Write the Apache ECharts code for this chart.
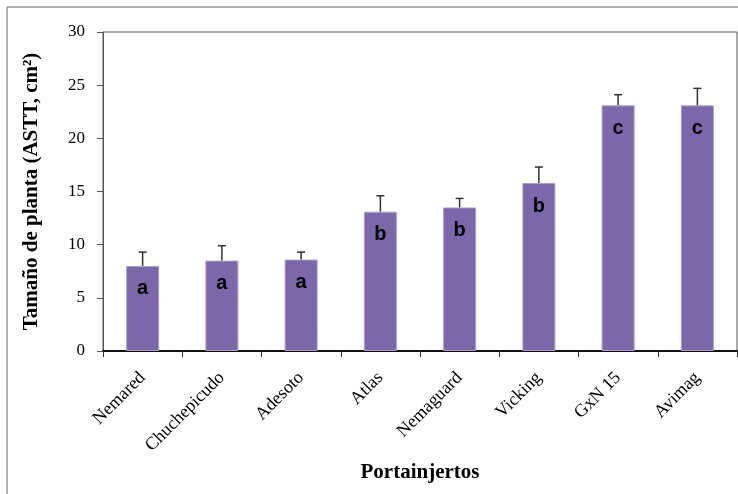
<!DOCTYPE html>
<html>
<head>
<meta charset="utf-8">
<script src="https://cdn.jsdelivr.net/npm/echarts@6/dist/echarts.min.js"></script>
<style>
  html, body { margin: 0; padding: 0; background: #fff; }
  #chart { width: 738px; height: 494px; }
</style>
</head>
<body>
<div id="chart"></div>
<script>
const categories = ["Nemared", "Chuchepicudo", "Adesoto", "Atlas", "Nemaguard", "Vicking", "GxN 15", "Avimag"];
const means = [8.0, 8.5, 8.6, 13.1, 13.5, 15.8, 23.1, 23.1];
const errorTops = [9.3, 9.9, 9.3, 14.6, 14.35, 17.3, 24.1, 24.7];
const groups = ["a", "a", "a", "b", "b", "b", "c", "c"];

const chart = echarts.init(document.getElementById("chart"), null, { renderer: "canvas" });

const serif = "'Liberation Serif', 'Times New Roman', serif";

const option = {
  animation: false,
  backgroundColor: "#fff",
  grid: {
    left: 103, right: 1, top: 32, bottom: 143,
    show: true, borderColor: "#555", borderWidth: 1
  },
  graphic: [
    { type: "line", shape: { x1: 7, y1: 7, x2: 738, y2: 7 }, style: { stroke: "#666", lineWidth: 1 } },
    { type: "line", shape: { x1: 7, y1: 7, x2: 7, y2: 494 }, style: { stroke: "#666", lineWidth: 1 } }
  ],
  xAxis: {
    type: "category",
    data: categories,
    name: "Portainjertos",
    nameLocation: "middle",
    nameGap: 104,
    nameTextStyle: { fontFamily: serif, fontWeight: "bold", fontSize: 21, color: "#000" },
    axisLine: { lineStyle: { color: "#111", width: 2 } },
    axisTick: { show: true, length: 6, lineStyle: { color: "#333" } },
    axisLabel: { rotate: 45, fontFamily: serif, fontSize: 18, color: "#000", margin: 24 }
  },
  yAxis: {
    type: "value",
    min: 0, max: 30, interval: 5,
    name: "Tamaño de planta (ASTT, cm²)",
    nameLocation: "middle",
    nameGap: 61,
    nameTextStyle: { fontFamily: serif, fontWeight: "bold", fontSize: 21, color: "#000" },
    axisLine: { show: true, lineStyle: { color: "#555" } },
    axisTick: { show: true, length: 6, lineStyle: { color: "#555" } },
    axisLabel: { fontFamily: serif, fontSize: 17, color: "#000", margin: 18 },
    splitLine: { show: false }
  },
  series: [
    {
      type: "bar",
      data: means,
      barWidth: 33,
      itemStyle: { color: "#7B68AB", borderColor: "#A99DCC", borderWidth: 1 },
      label: {
        show: true,
        position: "insideTop",
        distance: 13,
        formatter: p => groups[p.dataIndex],
        fontFamily: "'Liberation Sans', Arial, sans-serif",
        fontWeight: "bold",
        fontSize: 20,
        color: "#000"
      },
      z: 2
    },
    {
      type: "custom",
      data: categories.map((c, i) => [i, means[i], errorTops[i]]),
      renderItem: function (params, api) {
        const base = api.coord([api.value(0), api.value(1)]);
        const top = api.coord([api.value(0), api.value(2)]);
        const cap = 4;
        const st = { stroke: "#333", lineWidth: 1.5 };
        return {
          type: "group",
          children: [
            { type: "line", shape: { x1: base[0], y1: base[1], x2: top[0], y2: top[1] }, style: st },
            { type: "line", shape: { x1: top[0] - cap, y1: top[1], x2: top[0] + cap, y2: top[1] }, style: st }
          ]
        };
      },
      z: 3
    }
  ]
};

chart.setOption(option);
</script>
</body>
</html>
